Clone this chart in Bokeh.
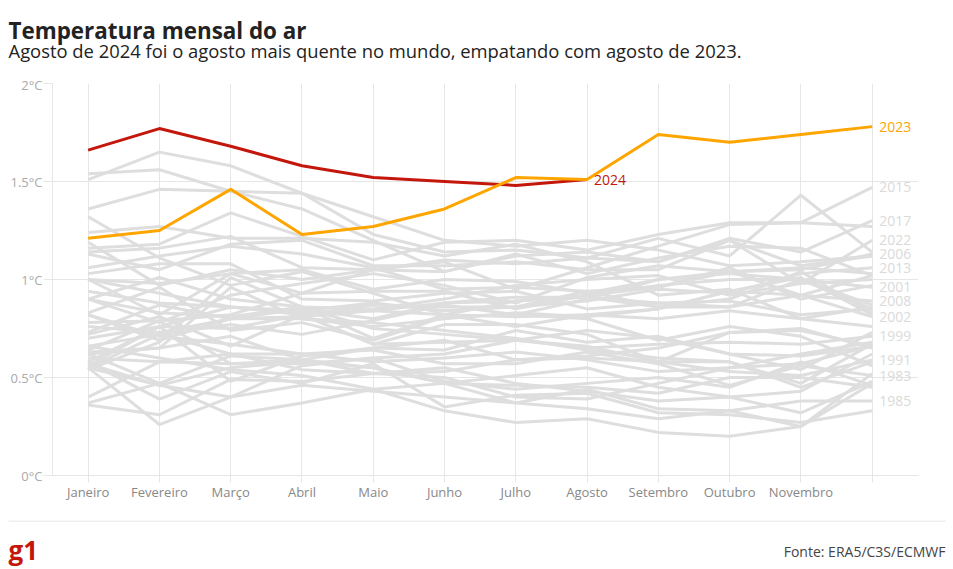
from bokeh.plotting import figure
from bokeh.models import (Range1d, FixedTicker, Label, LabelSet, ColumnDataSource, BoxAnnotation)
from bokeh.core.properties import value
from bokeh.embed import file_html
from bokeh.resources import INLINE

# ---------------- data ----------------
month_labels = ["Janeiro", "Fevereiro", "Março", "Abril", "Maio", "Junho", "Julho",
                "Agosto", "Setembro", "Outubro", "Novembro", ""]
month_idx = list(range(12))
y_ticks = [0, 0.5, 1, 1.5, 2]
y_tick_labels = ["0°C", "0.5°C", "1°C", "1.5°C", "2°C"]

v2024 = [1.66, 1.77, 1.68, 1.58, 1.52, 1.50, 1.48, 1.51]
v2023 = [1.21, 1.25, 1.46, 1.23, 1.27, 1.36, 1.52, 1.51, 1.74, 1.70, 1.74, 1.78]

y1979 = [0.36, 0.31, 0.49, 0.48, 0.52, 0.50, 0.40, 0.39, 0.47, 0.55, 0.57, 0.66]
y1980 = [0.55, 0.46, 0.40, 0.56, 0.60, 0.48, 0.44, 0.47, 0.50, 0.45, 0.58, 0.46]
y1981 = [0.66, 0.60, 0.54, 0.51, 0.44, 0.47, 0.51, 0.55, 0.45, 0.40, 0.43, 0.62]
y1982 = [0.37, 0.47, 0.31, 0.37, 0.44, 0.33, 0.27, 0.29, 0.22, 0.20, 0.25, 0.47]
y1983 = [0.82, 0.71, 0.67, 0.62, 0.64, 0.57, 0.57, 0.63, 0.57, 0.46, 0.56, 0.51]
y1984 = [0.58, 0.39, 0.53, 0.47, 0.57, 0.35, 0.41, 0.42, 0.32, 0.31, 0.27, 0.33]
y1985 = [0.55, 0.26, 0.40, 0.46, 0.43, 0.40, 0.37, 0.44, 0.34, 0.33, 0.38, 0.38]
y1986 = [0.57, 0.46, 0.55, 0.58, 0.55, 0.47, 0.46, 0.45, 0.42, 0.50, 0.50, 0.45]
y1987 = [0.58, 0.76, 0.48, 0.61, 0.65, 0.64, 0.74, 0.68, 0.71, 0.62, 0.54, 0.73]
y1988 = [0.82, 0.69, 0.80, 0.80, 0.78, 0.74, 0.70, 0.64, 0.60, 0.58, 0.45, 0.58]
y1989 = [0.40, 0.58, 0.57, 0.59, 0.52, 0.53, 0.59, 0.60, 0.58, 0.58, 0.47, 0.67]
y1990 = [0.54, 0.68, 1.01, 0.86, 0.75, 0.72, 0.69, 0.66, 0.58, 0.73, 0.74, 0.66]
y1991 = [0.72, 0.81, 0.66, 0.82, 0.67, 0.77, 0.77, 0.72, 0.58, 0.53, 0.51, 0.59]
y1992 = [0.63, 0.65, 0.71, 0.59, 0.55, 0.47, 0.37, 0.34, 0.29, 0.33, 0.25, 0.52]
y1993 = [0.60, 0.58, 0.62, 0.54, 0.52, 0.55, 0.47, 0.43, 0.38, 0.40, 0.32, 0.48]
y1994 = [0.62, 0.47, 0.61, 0.59, 0.65, 0.69, 0.59, 0.61, 0.65, 0.73, 0.75, 0.65]
y1995 = [0.83, 0.96, 0.74, 0.78, 0.69, 0.81, 0.82, 0.80, 0.69, 0.76, 0.71, 0.56]
y1996 = [0.55, 0.72, 0.62, 0.62, 0.58, 0.60, 0.63, 0.59, 0.53, 0.55, 0.62, 0.68]
y1997 = [0.66, 0.72, 0.77, 0.72, 0.79, 0.87, 0.82, 0.90, 1.00, 1.04, 1.06, 1.03]
y1998 = [1.24, 1.27, 1.21, 1.21, 1.19, 1.12, 1.18, 1.09, 0.92, 0.95, 0.80, 0.86]
y1999 = [0.64, 0.79, 0.57, 0.57, 0.60, 0.62, 0.69, 0.65, 0.67, 0.68, 0.67, 0.71]
y2000 = [0.56, 0.76, 0.75, 0.82, 0.67, 0.68, 0.69, 0.74, 0.70, 0.62, 0.61, 0.66]
y2001 = [0.70, 0.76, 0.86, 0.83, 0.84, 0.82, 0.89, 0.91, 0.86, 0.86, 1.00, 0.96]
y2002 = [1.03, 1.08, 1.08, 0.90, 0.89, 0.93, 0.94, 0.85, 0.88, 0.86, 0.92, 0.81]
y2003 = [1.00, 0.93, 0.86, 0.84, 0.88, 0.84, 0.86, 0.94, 0.96, 1.06, 0.90, 0.97]
y2004 = [0.90, 1.01, 0.90, 0.86, 0.70, 0.82, 0.76, 0.82, 0.85, 0.94, 1.01, 0.82]
y2005 = [1.00, 0.82, 1.03, 1.05, 0.95, 1.00, 0.99, 0.93, 1.00, 1.03, 1.00, 0.87]
y2006 = [0.73, 0.87, 0.80, 0.81, 0.84, 0.88, 0.89, 0.92, 0.96, 1.04, 1.05, 1.13]
y2007 = [1.32, 1.11, 0.97, 1.04, 0.93, 0.82, 0.81, 0.82, 0.80, 0.84, 0.80, 0.76]
y2008 = [0.62, 0.65, 0.96, 0.80, 0.76, 0.80, 0.83, 0.81, 0.85, 0.94, 0.92, 0.89]
y2009 = [0.90, 0.83, 0.81, 0.86, 0.85, 0.90, 0.97, 1.00, 1.02, 0.92, 0.98, 1.00]
y2010 = [1.06, 1.12, 1.17, 1.13, 1.06, 0.95, 0.96, 0.94, 0.86, 0.90, 1.04, 0.83]
y2011 = [0.76, 0.73, 0.80, 0.85, 0.80, 0.88, 0.91, 0.91, 0.88, 0.89, 0.82, 0.85]
y2012 = [0.78, 0.79, 0.82, 0.93, 0.94, 0.94, 0.85, 0.92, 0.97, 1.00, 1.00, 0.85]
y2013 = [0.94, 0.88, 0.86, 0.82, 0.87, 0.86, 0.86, 0.89, 0.95, 0.93, 1.03, 1.06]
y2014 = [0.90, 0.78, 0.92, 0.98, 1.03, 0.97, 0.88, 1.01, 1.07, 1.04, 0.92, 1.02]
y2015 = [1.00, 0.98, 1.03, 0.93, 1.05, 1.09, 0.95, 1.06, 1.17, 1.28, 1.29, 1.47]
y2016 = [1.51, 1.65, 1.58, 1.44, 1.32, 1.20, 1.17, 1.20, 1.15, 1.07, 1.09, 1.12]
y2017 = [1.36, 1.46, 1.45, 1.36, 1.20, 1.04, 1.12, 1.14, 1.09, 1.21, 1.14, 1.30]
y2018 = [1.13, 1.05, 1.18, 1.20, 1.07, 1.07, 1.09, 1.05, 1.05, 1.20, 1.07, 1.12]
y2019 = [1.16, 1.18, 1.34, 1.22, 1.10, 1.19, 1.20, 1.15, 1.23, 1.29, 1.29, 1.27]
y2020 = [1.54, 1.56, 1.45, 1.44, 1.23, 1.14, 1.15, 1.11, 1.21, 1.12, 1.43, 1.14]
y2021 = [1.19, 0.97, 1.05, 1.00, 1.05, 1.04, 1.13, 1.03, 1.11, 1.17, 1.16, 1.02]
y2022 = [1.14, 1.16, 1.22, 1.06, 1.05, 1.10, 1.08, 1.11, 1.09, 1.20, 0.98, 1.20]

gray_years = list(range(1979, 2023))
gray_series = [y1979, y1980, y1981, y1982, y1983, y1984, y1985, y1986, y1987, y1988,
               y1989, y1990, y1991, y1992, y1993, y1994, y1995, y1996, y1997, y1998,
               y1999, y2000, y2001, y2002, y2003, y2004, y2005, y2006, y2007, y2008,
               y2009, y2010, y2011, y2012, y2013, y2014, y2015, y2016, y2017, y2018,
               y2019, y2020, y2021, y2022]
labelled_years = [2015, 2017, 2022, 2006, 2013, 2001, 2008, 2002, 1999, 1991, 1983, 1985]

# ---------------- styles ----------------
FONT = "Open Sans"
GRID = "#e6e6e6"
GRAY_LINE = "#dedede"
RED = "#c4170c"
ORANGE = "#ffa500"
W = 953

# ---------------- header ----------------
header = figure(width=W, height=75, x_range=Range1d(0, W), y_range=Range1d(0, 75),
                x_axis_type=None, y_axis_type=None, toolbar_location=None,
                output_backend="svg", min_border=0, outline_line_color=None, title=None)
header.add_layout(Label(x=8, y=45, text="Temperatura mensal do ar", text_font=FONT,
                        text_font_size="22.4px", text_font_style="bold", text_color="#222222",
                        text_baseline="alphabetic"))
header.add_layout(Label(x=8, y=25,
                        text="Agosto de 2024 foi o agosto mais quente no mundo, empatando com agosto de 2023.",
                        text_font=FONT, text_font_size="18.4px", text_color="#222222",
                        text_baseline="alphabetic"))

# ---------------- main plot ----------------
p = figure(width=W, height=445, x_range=Range1d(-0.5, 11.65), y_range=Range1d(0, 2),
           title=None, toolbar_location=None, output_backend="svg",
           min_border_left=52, min_border_right=35, min_border_top=8, min_border_bottom=45,
           outline_line_color=None)

gray_xs = [month_idx[:len(s)] for s in gray_series]
p.multi_line(xs=gray_xs, ys=gray_series, line_color=GRAY_LINE, line_width=3,
             line_join="round")
p.line(month_idx[:len(v2024)], v2024, line_color=RED, line_width=3, line_join="round")
p.line(month_idx[:len(v2023)], v2023, line_color=ORANGE, line_width=3, line_join="round")

lab_src = ColumnDataSource(dict(
    x=[month_idx[-1]] * len(labelled_years),
    y=[gray_series[gray_years.index(yr)][-1] for yr in labelled_years],
    t=[str(yr) for yr in labelled_years]))
p.add_layout(LabelSet(x="x", y="y", text="t", source=lab_src, x_offset=7,
                      text_font=value(FONT), text_font_size=value("14px"),
                      text_color="#dadada", text_baseline="middle"))
p.add_layout(Label(x=month_idx[len(v2023) - 1], y=v2023[-1], text="2023", x_offset=7,
                   text_font=FONT, text_font_size="14px", text_color=ORANGE,
                   text_baseline="middle"))
p.add_layout(Label(x=month_idx[len(v2024) - 1], y=v2024[-1], text="2024", x_offset=7,
                   text_font=FONT, text_font_size="14px", text_color=RED,
                   text_baseline="middle"))

p.xaxis.ticker = FixedTicker(ticks=month_idx)
p.xaxis.major_label_overrides = {i: lab for i, lab in zip(month_idx, month_labels)}
p.xaxis.axis_line_color = GRID
p.xaxis.major_tick_line_color = GRID
p.xaxis.major_tick_out = 7
p.xaxis.major_tick_in = 0
p.xaxis.minor_tick_line_color = None
p.xaxis.major_label_text_font = FONT
p.xaxis.major_label_text_font_size = "13px"
p.xaxis.major_label_text_color = "#888888"
p.xaxis.major_label_standoff = 0

p.yaxis.ticker = FixedTicker(ticks=y_ticks)
p.yaxis.major_label_overrides = {t: lab for t, lab in zip(y_ticks, y_tick_labels)}
p.yaxis.axis_line_color = GRID
p.yaxis.major_tick_line_color = GRID
p.yaxis.major_tick_out = 9
p.yaxis.major_tick_in = 0
p.yaxis.minor_tick_line_color = None
p.yaxis.major_label_text_font = FONT
p.yaxis.major_label_text_font_size = "13px"
p.yaxis.major_label_text_color = "#aaaaaa"
p.yaxis.major_label_standoff = 1

p.xgrid.grid_line_color = GRID
p.ygrid.grid_line_color = GRID

# ---------------- footer ----------------
footer = figure(width=W, height=49, x_range=Range1d(0, W), y_range=Range1d(0, 49),
                x_axis_type=None, y_axis_type=None, toolbar_location=None,
                output_backend="svg", min_border=0, outline_line_color=None, title=None)
footer.add_layout(BoxAnnotation(left=8, right=945, bottom=48, top=49,
                                fill_color="#dddddd", fill_alpha=1, line_color=None))
footer.add_layout(Label(x=8, y=19.5, text="g1", text_font=FONT, text_font_size="26px",
                        text_font_style="bold", text_color=RED, text_baseline="alphabetic"))
footer.add_layout(Label(x=945, y=18, text="Fonte: ERA5/C3S/ECMWF", text_font=FONT,
                        text_font_size="14px", text_color="#444444", text_align="right",
                        text_baseline="alphabetic"))

open("out.html", "w").write(file_html([header, p, footer], INLINE))
